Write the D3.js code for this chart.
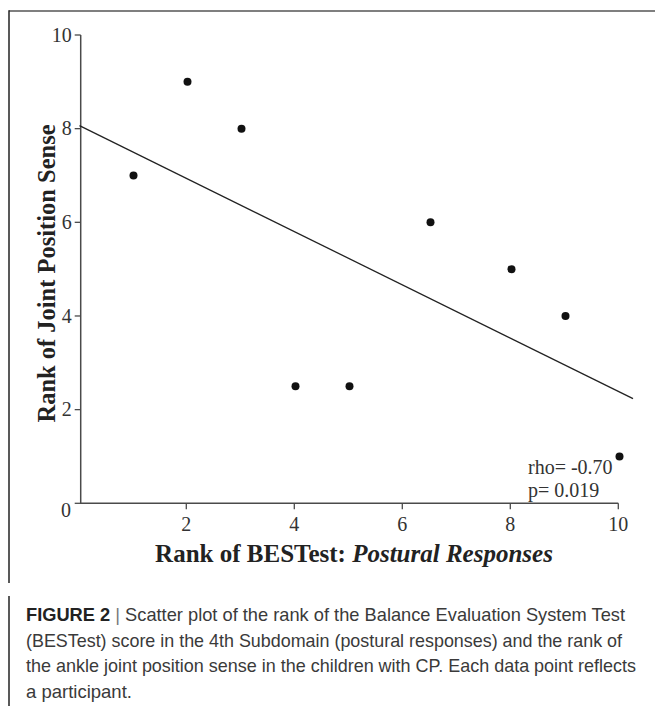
<!DOCTYPE html>
<html>
<head>
<meta charset="utf-8">
<script src="https://cdn.jsdelivr.net/npm/d3@7"></script>
<style>
  html, body { margin: 0; padding: 0; background: #fff; }
  svg { display: block; }
</style>
</head>
<body>
<svg id="chart" width="655" height="706"></svg>
<script>
// ---- data ----
const rankBESTest = [1, 2, 3, 4, 5, 6.5, 8, 9, 10];
const rankJPS     = [7, 9, 8, 2.5, 2.5, 6, 5, 4, 1];
const xTicks = [2, 4, 6, 8, 10];
const yTicks = [0, 2, 4, 6, 8, 10];
const fitRange = [0, 10.25];
const statLines = ["rho= -0.70", "p= 0.019"];
const xTitleBold = "Rank of BESTest: ";
const xTitleItalic = "Postural Responses";
const yTitle = "Rank of Joint Position Sense";
const captionLines = [
  "Scatter plot of the rank of the Balance Evaluation System Test",
  "(BESTest) score in the 4th Subdomain (postural responses) and the rank of",
  "the ankle joint position sense in the children with CP. Each data point reflects",
  "a participant."
];

const svg = d3.select("#chart");
const serif = "'Liberation Serif', 'Times New Roman', serif";
const sans = "'Liberation Sans', Arial, sans-serif";

const x = d3.scaleLinear().domain([0, 10]).range([79.5, 619.5]);
const y = d3.scaleLinear().domain([0, 10]).range([503.3, 35]);

// frame
svg.append("line").attr("x1", 9).attr("x2", 655).attr("y1", 11).attr("y2", 11)
  .attr("stroke", "#555").attr("stroke-width", 1.6);
svg.append("line").attr("x1", 9).attr("x2", 9).attr("y1", 10.2).attr("y2", 583)
  .attr("stroke", "#222").attr("stroke-width", 1.5);
svg.append("line").attr("x1", 9).attr("x2", 9).attr("y1", 596).attr("y2", 706)
  .attr("stroke", "#222").attr("stroke-width", 1.5);

const axisColor = "#4a4a4a";
// y axis
const yAxisG = svg.append("g").attr("transform", `translate(${80.7},0)`);
yAxisG.append("line").attr("x1", 0).attr("x2", 0).attr("y1", y(10)).attr("y2", y(0))
  .attr("stroke", axisColor).attr("stroke-width", 1.5);
yAxisG.selectAll("line.tk").data(yTicks).join("line").attr("class", "tk")
  .attr("x1", -6).attr("x2", 0).attr("y1", d => y(d)).attr("y2", d => y(d))
  .attr("stroke", axisColor).attr("stroke-width", 1.3);
yAxisG.selectAll("text.tl").data(yTicks.filter(d => d > 0)).join("text").attr("class", "tl")
  .attr("x", -9).attr("y", d => y(d)).attr("dy", "0.34em")
  .attr("text-anchor", "end").attr("font-family", serif).attr("font-size", 20)
  .attr("fill", "#333").text(d => d);

// x axis
const xAxisG = svg.append("g").attr("transform", `translate(0,${y(0)})`);
xAxisG.append("line").attr("x1", 80).attr("x2", x(10) - 1.2).attr("y1", 0).attr("y2", 0)
  .attr("stroke", axisColor).attr("stroke-width", 1.5);
xAxisG.selectAll("line.tk").data(xTicks).join("line").attr("class", "tk")
  .attr("x1", d => x(d) - 1.2).attr("x2", d => x(d) - 1.2).attr("y1", 0).attr("y2", 6)
  .attr("stroke", axisColor).attr("stroke-width", 1.3);
xAxisG.selectAll("text.tl").data(xTicks).join("text").attr("class", "tl")
  .attr("x", d => x(d) - 1.2).attr("y", 28)
  .attr("text-anchor", "middle").attr("font-family", serif).attr("font-size", 20)
  .attr("fill", "#333").text(d => d);
// shared origin label
svg.append("text").attr("x", 71).attr("y", 517).attr("text-anchor", "end")
  .attr("font-family", serif).attr("font-size", 20).attr("fill", "#333").text("0");

// regression line (least squares)
const n = rankBESTest.length;
const mx = d3.mean(rankBESTest), my = d3.mean(rankJPS);
let sxy = 0, sxx = 0;
for (let i = 0; i < n; i++) {
  sxy += (rankBESTest[i] - mx) * (rankJPS[i] - my);
  sxx += (rankBESTest[i] - mx) ** 2;
}
const slope = sxy / sxx, intercept = my - slope * mx;
svg.append("path")
  .attr("d", d3.line().x(d => x(d)).y(d => y(intercept + slope * d))(fitRange))
  .attr("stroke", "#222").attr("stroke-width", 1.3).attr("fill", "none");

// points
svg.selectAll("circle.pt").data(rankBESTest.map((v, i) => [v, rankJPS[i]]))
  .join("circle").attr("class", "pt")
  .attr("cx", d => x(d[0])).attr("cy", d => y(d[1])).attr("r", 4)
  .attr("fill", "#111");

// stats text
svg.selectAll("text.st").data(statLines).join("text").attr("class", "st")
  .attr("x", 528).attr("y", (d, i) => 474 + i * 23)
  .attr("font-family", serif).attr("font-size", 20).attr("fill", "#333").text(d => d);

// x title
const xt = svg.append("text").attr("x", 354).attr("y", 562).attr("text-anchor", "middle")
  .attr("font-family", serif).attr("font-size", 25).attr("font-weight", "bold").attr("fill", "#222");
xt.append("tspan").text(xTitleBold);
xt.append("tspan").attr("font-style", "italic").text(xTitleItalic);

// y title
svg.append("text").attr("transform", `translate(55,273.5) rotate(-90)`)
  .attr("text-anchor", "middle").attr("font-family", serif).attr("font-size", 24.5)
  .attr("font-weight", "bold").attr("fill", "#222").text(yTitle);

// caption
const capEnds = [625, 622, 636, null];
const capG = svg.append("g");
captionLines.forEach((line, i) => {
  const t = capG.append("text").attr("x", 26).attr("y", 621 + i * 25.5)
    .attr("font-family", sans).attr("font-size", 18.5).attr("fill", "#3a3a3a");
  if (i === 0) {
    t.append("tspan").attr("font-weight", "bold").attr("fill", "#222").text("FIGURE 2");
    t.append("tspan").attr("fill", "#777").text("  |  ");
  }
  t.append("tspan").text(line);
  if (capEnds[i]) {
    t.attr("textLength", capEnds[i] - 26).attr("lengthAdjust", "spacingAndGlyphs");
  }
});
</script>
</body>
</html>
